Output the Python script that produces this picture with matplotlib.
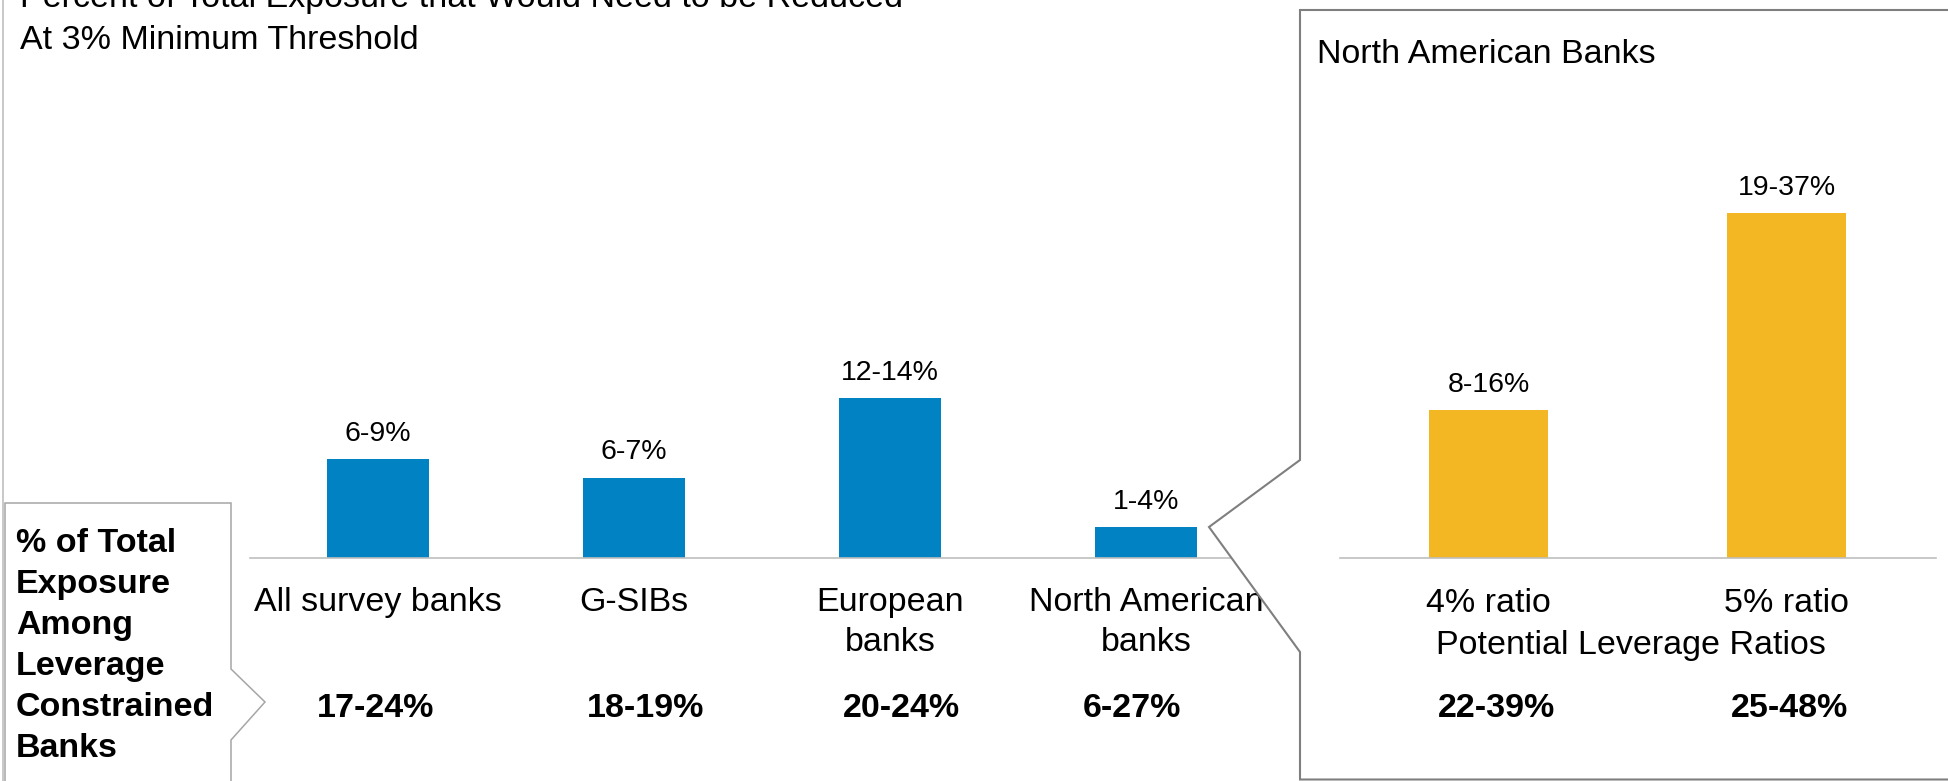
import matplotlib
matplotlib.use("Agg")
import matplotlib.pyplot as plt
from matplotlib.patches import Polygon
from matplotlib.lines import Line2D

plt.rcParams['font.family'] = ['Liberation Sans', 'DejaVu Sans']

# ---------------- data ----------------
title_lines = ["Percent of Total Exposure that Would Need to be Reduced",
               "At 3% Minimum Threshold"]
left_categories = ["All survey banks", "G-SIBs", "European\nbanks", "North American\nbanks"]
left_values = [8.0, 6.5, 13.0, 2.5]
left_labels = ["6-9%", "6-7%", "12-14%", "1-4%"]
left_totals = ["17-24%", "18-19%", "20-24%", "6-27%"]

right_title = "North American Banks"
right_categories = ["4% ratio", "5% ratio"]
right_values = [12.0, 28.0]
right_labels = ["8-16%", "19-37%"]
right_totals = ["22-39%", "25-48%"]
right_xlabel = "Potential Leverage Ratios"

callout_text = "% of Total\nExposure\nAmong\nLeverage\nConstrained\nBanks"

# ---------------- style / layout ----------------
BLUE = "#0082C3"
GOLD = "#F2B722"
AXIS_GRAY = "#BFBFBF"
W, H, DPI = 1948, 781, 100
BASE = 557.5          # baseline pixel row
PX_PER_UNIT = 12.3
YMAX = 40
TOP = BASE - YMAX * PX_PER_UNIT
CAT_LINE_PT = 28.8    # line pitch of two-line category labels (40 px)

fig = plt.figure(figsize=(W / DPI, H / DPI), dpi=DPI)


def fx(x):
    return x / W


def fy(y):
    return 1 - y / H


def P(pts):
    return [(fx(x), fy(y)) for x, y in pts]


def make_axes(x0, x1, z):
    ax = fig.add_axes([fx(x0), fy(BASE), (x1 - x0) / W, (BASE - TOP) / H], zorder=z)
    ax.patch.set_visible(False)
    for s in ("top", "right", "left"):
        ax.spines[s].set_visible(False)
    ax.spines["bottom"].set_color(AXIS_GRAY)
    ax.spines["bottom"].set_linewidth(1.2)
    ax.set_xticks([])
    ax.set_yticks([])
    ax.set_ylim(0, YMAX)
    return ax


# left panel
axL = make_axes(250, 1274, 0)
xl = list(range(len(left_categories)))
axL.bar(xl, left_values, width=0.4, color=BLUE, zorder=2)
axL.set_xlim(-0.5, len(left_categories) - 0.5)
left_dx_pt = [-1.4, 8.6, 7.9, -10.1]
for i, (cat, v, lab, tot) in enumerate(zip(left_categories, left_values, left_labels, left_totals)):
    axL.annotate(lab, (i, v), xytext=(0, 13), textcoords="offset points",
                 ha="center", va="baseline", fontsize=20.5, annotation_clip=False)
    extra = cat.count("\n") * CAT_LINE_PT
    axL.annotate(cat, (i, 0), xytext=(0, -38.3 - extra), textcoords="offset points",
                 ha="center", va="baseline", fontsize=24.5, linespacing=1.37,
                 annotation_clip=False)
    axL.annotate(tot, (i, 0), xytext=(left_dx_pt[i], -114.8), textcoords="offset points",
                 ha="center", va="baseline", fontsize=24.5, fontweight="bold",
                 annotation_clip=False)

# right callout box (covers end of left panel)
right_box = Polygon(P([(1300, 779.5), (1300, 652), (1209, 527), (1300, 460),
                       (1300, 10), (1965, 10), (1965, 779.5)]),
                    closed=True, facecolor="white", edgecolor="#7F7F7F",
                    linewidth=1.5, transform=fig.transFigure, zorder=1.5)
fig.add_artist(right_box)

# right panel
axR = make_axes(1339.5, 1935.5, 3)
xr = list(range(len(right_categories)))
axR.bar(xr, right_values, width=0.4, color=GOLD, zorder=2)
axR.set_xlim(-0.5, len(right_categories) - 0.5)
right_dx_pt = [6.1, 2.5]
for i, (cat, v, lab, tot) in enumerate(zip(right_categories, right_values, right_labels, right_totals)):
    axR.annotate(lab, (i, v), xytext=(0, 13), textcoords="offset points",
                 ha="center", va="baseline", fontsize=20.5, annotation_clip=False)
    axR.annotate(cat, (i, 0), xytext=(0, -39.3), textcoords="offset points",
                 ha="center", va="baseline", fontsize=24.5, annotation_clip=False)
    axR.annotate(tot, (i, 0), xytext=(right_dx_pt[i], -114.8), textcoords="offset points",
                 ha="center", va="baseline", fontsize=24.5, fontweight="bold",
                 annotation_clip=False)

fig.text(fx(1631), fy(654), right_xlabel, ha="center", va="baseline", fontsize=24.5, zorder=4)
fig.text(fx(1317), fy(63), right_title, ha="left", va="baseline", fontsize=24.5, zorder=4)

# left callout box
left_box = Polygon(P([(5, 790), (5, 503), (231, 503), (231, 669), (265, 702),
                      (231, 740), (231, 790)]),
                   closed=False, facecolor="white", edgecolor="#A6A6A6",
                   linewidth=1.1, transform=fig.transFigure, zorder=1.5)
fig.add_artist(left_box)
# multi-line text: baseline alignment refers to the last line ("Banks")
fig.text(fx(16), fy(757), callout_text, ha="left", va="baseline", fontsize=24.5,
         fontweight="bold", linespacing=1.42, zorder=4)

# outer left border line
fig.add_artist(Line2D([fx(3), fx(3)], [0, 1], color=AXIS_GRAY, linewidth=1.2,
                      transform=fig.transFigure, zorder=1))

# title (first line runs off the top edge, as in the source)
fig.text(fx(20), fy(7), title_lines[0], ha="left", va="baseline", fontsize=24.5, zorder=4)
fig.text(fx(20), fy(49), title_lines[1], ha="left", va="baseline", fontsize=24.5, zorder=4)

fig.savefig("out.png", dpi=DPI, facecolor="white")
